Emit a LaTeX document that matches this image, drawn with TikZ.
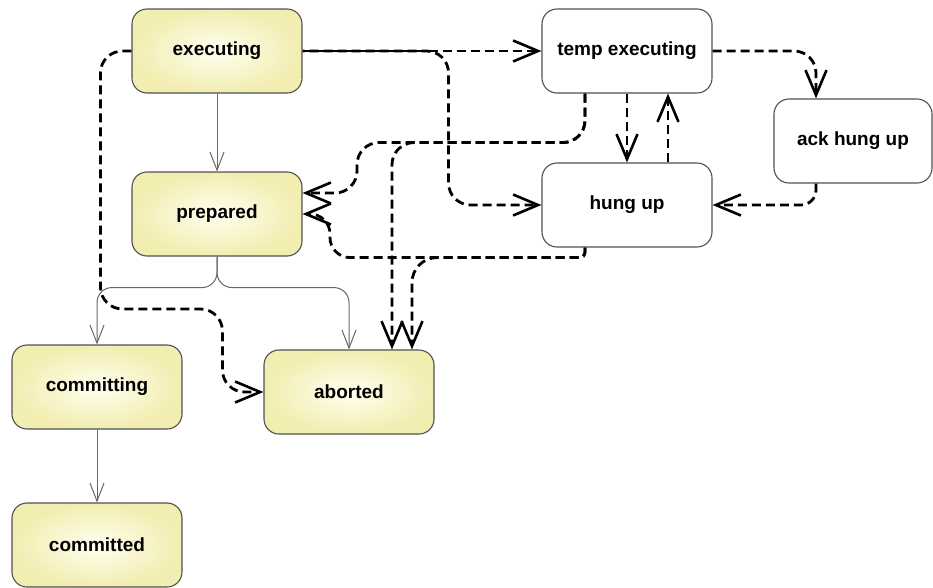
\documentclass[tikz,border=0pt]{standalone}
\usepackage{fontspec}
\setmainfont{Liberation Sans}
\usetikzlibrary{arrows.meta}
\definecolor{stateout}{RGB}{242,237,176}
\definecolor{statein}{RGB}{255,255,240}
\definecolor{stateline}{RGB}{80,80,80}
\definecolor{transline}{RGB}{110,100,100}
\begin{document}
    \begin{tikzpicture}[x=1pt,y=-1pt,
        state/.style={draw=stateline, line width=1.1pt, rounded corners=15pt, inner color=statein, outer color=stateout, minimum width=170pt, minimum height=84pt, font=\fontsize{19}{22}\selectfont\bfseries},
        tempstate/.style={state, inner color=white, outer color=white},
        trans/.style={draw=transline, line width=1pt, rounded corners=15pt, -{Straight Barb[length=18pt,width=14pt]}},
        dep/.style={draw=black, line width=2.8pt, dash pattern=on 9pt off 5pt, rounded corners=22pt, -{Straight Barb[length=25pt,width=21pt,line width=2.6pt]}}]
        \useasboundingbox[fill=white] (0,0) rectangle (933,587);
        \node[state] (exec) at (217,51) {executing};
        \node[state] (prep) at (217,214) {prepared};
        \node[state] (commiting) at (97,387) {committing};
        \node[state] (commd) at (97,545) {committed};
        \node[state] (abort) at (349,392) {aborted};
        \node[tempstate] (temp) at (627,51) {temp executing};
        \node[tempstate] (hung) at (627,205) {hung up};
        \node[tempstate, minimum width=158pt] (ack) at (853,141) {ack hung up};
        \draw[trans] (exec.south) -- (prep.north);
        \draw[trans] (prep.south) -- ++(0,31) -| (commiting.north);
        \draw[trans] (prep.south) -- ++(0,31) -| (abort.north);
        \draw[trans] (commiting.south) -- (commd.north);
        \draw[dep] (exec.east) -- (temp.west);
        \draw[dep, dash phase=7pt] (exec.east) -- ++(146,0) |- (hung.west);
        \draw[dep] (exec.west) -- ++(-31,0) -- ++(0,258) -- ++(122,0) |- (abort.west);
        \draw[dep] ([xshift=-42pt]temp.south) -- ++(0,49) -- ++(-228,0) |- ([yshift=21pt]prep.east);
        \draw[dep] ([xshift=-42pt]temp.south) -- ++(0,49) -| ([xshift=43pt]abort.north);
        \draw[dep, rounded corners=5pt] ([xshift=-42pt]hung.south) -- ++(0,10) [rounded corners=20pt] -- ++(-255,0) |- (prep.east);
        \draw[dep, rounded corners=5pt] ([xshift=-42pt]hung.south) -- ++(0,10) [rounded corners=25pt] -| ([xshift=63pt]abort.north);
        \draw[dep] (temp.south) -- (hung.north);
        \draw[dep] ([xshift=41pt]hung.north) -- ([xshift=41pt]temp.south);
        \draw[dep] (temp.east) -| ([xshift=-37pt]ack.north);
        \draw[dep, rounded corners=15pt] ([xshift=-37pt]ack.south) |- (hung.east);
    \end{tikzpicture}
\end{document}
